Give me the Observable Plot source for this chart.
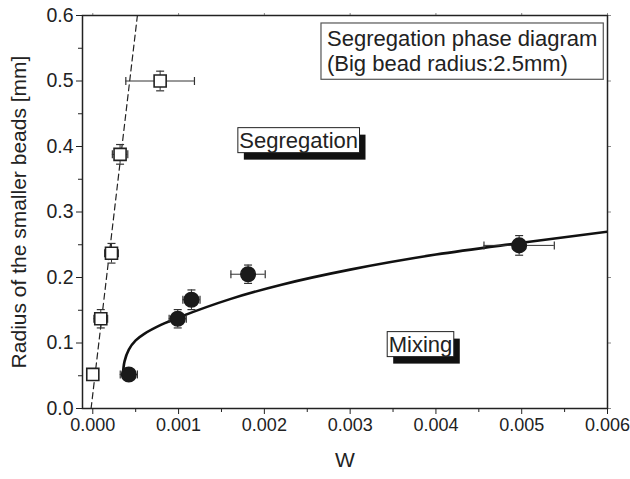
<!DOCTYPE html>
<html>
<head>
<meta charset="utf-8">
<script src="https://cdn.jsdelivr.net/npm/d3@7"></script>
<script src="https://cdn.jsdelivr.net/npm/@observablehq/plot@0.6"></script>
<style>
  html, body { margin: 0; padding: 0; background: #fff; }
  svg { display: block; }
</style>
</head>
<body>
<div id="chart"></div>
<script>
// ---- data ----
// Segregation points (open squares)
const segX  = [0.0,    0.000093, 0.000218, 0.000318, 0.000785];
const segY  = [0.052,  0.137,    0.237,    0.388,    0.500];
const segXe = [0.00004, 0.00008, 0.00008,  0.00009,  0.0004];
const segYe = [0.008,  0.014,    0.015,    0.015,    0.015];

// Mixing points (filled circles)
const mixX  = [0.00042, 0.00099, 0.00115, 0.00181, 0.00497];
const mixY  = [0.052,   0.137,   0.166,   0.205,   0.249];
const mixXe = [0.0001,  0.0001,  0.0001,  0.0002,  0.00041];
const mixYe = [0.006,   0.014,   0.015,   0.014,   0.015];

// Dashed boundary line
const dashX = [-0.00002, 0.00052];
const dashY = [0.0, 0.6];

// Solid boundary curve
const curveX = [0.00035, 0.00037, 0.00042, 0.0005, 0.0006, 0.0008, 0.001, 0.0016, 0.0022, 0.003, 0.004, 0.005, 0.006];
const curveY = [0.050,   0.072,   0.090,   0.104,  0.114,  0.128,  0.139, 0.167,  0.189,  0.212, 0.235, 0.253, 0.270];

// Axis ticks
const xTicks = [0, 0.001, 0.002, 0.003, 0.004, 0.005, 0.006];
const xMinor = [0.0005, 0.0015, 0.0025, 0.0035, 0.0045, 0.0055];
const yTicks = [0, 0.1, 0.2, 0.3, 0.4, 0.5, 0.6];
const yMinor = [0.05, 0.15, 0.25, 0.35, 0.45, 0.55];

// Texts
const xLabel = "W";
const yLabel = "Radius of the smaller beads [mm]";
const legendText = "Segregation phase diagram\n(Big bead radius:2.5mm)";
const regionLabels = ["Segregation", "Mixing"];
const regionX = [0.00240, 0.00382];
const regionY = [0.409, 0.0976];
const legendPos = [{x: 0.00273, y: 0.5465}];

// ---- build tables ----
const seg = segX.map((x, i) => ({x, y: segY[i], xe: segXe[i], ye: segYe[i]}));
const mix = mixX.map((x, i) => ({x, y: mixY[i], xe: mixXe[i], ye: mixYe[i]}));
const pts = seg.concat(mix);
const dash = dashX.map((x, i) => ({x, y: dashY[i]}));
const curve = curveX.map((x, i) => ({x, y: curveY[i]}));
const regions = regionLabels.map((t, i) => ({t, x: regionX[i], y: regionY[i]}));

const xCaps = pts.flatMap(d => [{x: d.x - d.xe, y: d.y}, {x: d.x + d.xe, y: d.y}]);
const yCaps = pts.flatMap(d => [{x: d.x, y: d.y - d.ye}, {x: d.x, y: d.y + d.ye}]);

const vCap = {draw(ctx) { ctx.moveTo(0, -4); ctx.lineTo(0, 4); }};
const hCap = {draw(ctx) { ctx.moveTo(-4, 0); ctx.lineTo(4, 0); }};

const FONT = "Liberation Sans, Arial, Helvetica, sans-serif";

const chart = Plot.plot({
  width: 630,
  height: 479,
  marginLeft: 82,
  marginRight: 23,
  marginTop: 15,
  marginBottom: 71,
  style: {fontFamily: FONT, fontSize: "18px", color: "#222", background: "#fff"},
  x: {domain: [-0.00012, 0.006]},
  y: {domain: [0, 0.6]},
  marks: [
    // minor ticks
    Plot.axisX(xMinor, {tickSize: 4, tickFormat: () => "", label: null, stroke: "#222"}),
    Plot.axisY(yMinor, {tickSize: 4, tickFormat: () => "", label: null, stroke: "#222"}),
    Plot.axisX(xTicks, {anchor: "top", tickSize: 3, tickFormat: () => "", label: null, stroke: "#888"}),
    Plot.axisY(yTicks, {anchor: "right", tickSize: 3, tickFormat: () => "", label: null, stroke: "#888"}),
    // major ticks
    Plot.axisX(xTicks, {tickSize: 6, tickPadding: 4, tickFormat: d3.format(".3f"), label: null, stroke: "#222", fill: "#222", fontSize: 18}),
    Plot.axisY(yTicks, {tickSize: 6, tickPadding: 3, tickFormat: d3.format(".1f"), label: null, stroke: "#222", fill: "#222", fontSize: 19.5}),
    Plot.frame({stroke: "#222", strokeWidth: 1.5}),
    // axis labels
    Plot.text([xLabel], {frameAnchor: "bottom", dy: 58, fontSize: 21, fill: "#222"}),
    Plot.text([yLabel], {frameAnchor: "left", dx: -63, rotate: -90, textAnchor: "middle", fontSize: 21, fill: "#222"}),
    // boundaries
    Plot.line(dash, {x: "x", y: "y", stroke: "#222", strokeWidth: 1.2, strokeDasharray: "6,4", clip: true}),
    Plot.line(curve, {x: "x", y: "y", stroke: "#111", strokeWidth: 2.6, curve: "catmull-rom", clip: true}),
    // error bars
    Plot.ruleY(pts, {y: "y", x1: d => d.x - d.xe, x2: d => d.x + d.xe, stroke: "#333", strokeWidth: 1}),
    Plot.ruleX(pts, {x: "x", y1: d => d.y - d.ye, y2: d => d.y + d.ye, stroke: "#333", strokeWidth: 1}),
    Plot.dot(xCaps, {x: "x", y: "y", symbol: vCap, fill: "none", stroke: "#333", strokeWidth: 1.2}),
    Plot.dot(yCaps, {x: "x", y: "y", symbol: hCap, fill: "none", stroke: "#333", strokeWidth: 1.2}),
    // points
    Plot.dot(seg, {x: "x", y: "y", symbol: "square", r: 6.8, fill: "white", stroke: "#222", strokeWidth: 1.6}),
    Plot.dot(mix, {x: "x", y: "y", symbol: "circle", r: 7.3, fill: "#1a1a1a", stroke: "#1a1a1a"}),
    // annotations
    Plot.text(regions, {x: "x", y: "y", text: "t", fontSize: 22, fill: "#222", className: "shadowbox"}),
    Plot.text(legendPos, {x: "x", y: "y", text: () => legendText, textAnchor: "start", lineHeight: 1.15, fontSize: 22, fill: "#222", className: "legendbox"})
  ]
});

document.getElementById("chart").appendChild(chart);

// draw boxes behind annotation texts
const NS = "http://www.w3.org/2000/svg";
function boxify(selector, padX, padY, shadow, stroke, sw) {
  chart.querySelectorAll(selector + " text").forEach(t => {
    const b = t.getBBox();
    const g = t.parentNode;
    const tr = t.getAttribute("transform");
    const mk = (dx, dy, fill, st) => {
      const r = document.createElementNS(NS, "rect");
      r.setAttribute("x", b.x - padX + dx);
      r.setAttribute("y", b.y - padY + dy);
      r.setAttribute("width", b.width + 2 * padX);
      r.setAttribute("height", b.height + 2 * padY);
      r.setAttribute("fill", fill);
      if (st) { r.setAttribute("stroke", st); r.setAttribute("stroke-width", sw); }
      else r.setAttribute("stroke", "none");
      if (tr) r.setAttribute("transform", tr);
      g.insertBefore(r, t);
    };
    if (shadow) mk(6, 7, "#111", null);
    mk(0, 0, "#fff", stroke);
  });
}
boxify("g.shadowbox", 1.5, 0, true, "#222", 1);
boxify("g.legendbox", 6, 3, false, "#555", 1.2);
</script>
</body>
</html>
